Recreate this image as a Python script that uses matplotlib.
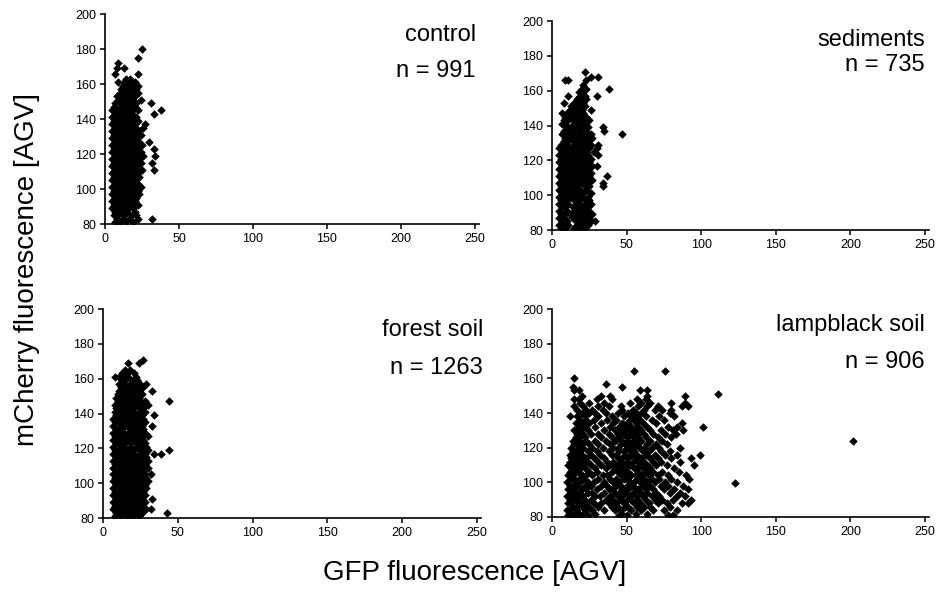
import numpy as np
import matplotlib
matplotlib.use("Agg")
import matplotlib.pyplot as plt

plt.rcParams['font.family'] = ['Liberation Sans', 'DejaVu Sans']

# points, grouped by mCherry value: (y, [GFP values])
control_rows = [
    (81, [7, 10, 14, 19]), (83, [8, 12, 16, 22, 32]), (85, [6, 9, 13, 18, 21]),
    (87, [7, 11, 15, 20]), (89, [5, 8, 12, 16, 19]), (91, [6, 10, 14, 18, 22]),
    (93, [5, 8, 12, 16, 20]), (95, [7, 10, 14, 18, 21]), (97, [5, 9, 12, 16, 20, 23]),
    (99, [6, 8, 11, 15, 18, 22]), (101, [5, 9, 13, 17, 20, 24]), (103, [7, 10, 14, 16, 19, 22]),
    (105, [5, 8, 12, 15, 18, 21]), (107, [6, 10, 13, 17, 20, 23]), (109, [5, 8, 11, 15, 19, 22]),
    (111, [7, 10, 13, 16, 20, 25, 33]), (113, [5, 9, 12, 15, 18, 22]),
    (115, [6, 8, 11, 14, 17, 21, 24, 32]), (117, [5, 9, 12, 16, 19, 23]),
    (119, [7, 10, 13, 15, 18, 22, 26, 34]), (121, [5, 8, 11, 14, 17, 20, 24]),
    (123, [6, 9, 12, 16, 19, 22, 33]), (125, [5, 8, 11, 14, 18, 21, 25]),
    (127, [7, 10, 13, 16, 19, 23, 30]), (129, [5, 9, 12, 15, 18, 21]),
    (131, [6, 8, 11, 14, 17, 20, 24]), (133, [5, 9, 12, 16, 19, 22]),
    (135, [7, 10, 13, 15, 18, 21, 26]), (137, [5, 8, 11, 14, 17, 20, 27]),
    (139, [6, 9, 12, 16, 19, 22]), (141, [5, 8, 11, 14, 18, 21]),
    (143, [7, 10, 13, 15, 18, 33]), (145, [5, 9, 12, 16, 19, 22, 38]),
    (147, [6, 10, 13, 17, 20]), (149, [7, 11, 14, 18, 21, 31]),
    (151, [9, 12, 15, 18, 24]), (153, [8, 11, 14, 17, 20]), (155, [10, 13, 16, 19, 22]),
    (157, [11, 14, 17, 21]), (159, [12, 15, 18, 22]), (161, [9, 13, 16, 20]),
    (163, [14, 17]), (166, [7, 22]), (169, [8, 13]), (172, [9]), (175, [22]), (180, [25]),
]

sediments_rows = [
    (81, [6, 9, 15, 18, 22]), (83, [5, 8, 11, 17, 20, 24]), (85, [7, 10, 16, 19, 23, 26, 29]),
    (87, [5, 9, 14, 18, 21, 25]), (89, [6, 8, 12, 16, 20, 23, 27]), (91, [5, 10, 15, 18, 22, 25]),
    (93, [7, 9, 14, 17, 21, 24]), (95, [5, 8, 11, 16, 19, 23, 26]), (97, [6, 10, 15, 18, 22, 25]),
    (99, [5, 9, 13, 17, 20, 24]), (101, [7, 11, 14, 18, 21, 26]), (103, [5, 8, 12, 16, 19, 23]),
    (105, [6, 10, 15, 17, 22, 25, 34]), (107, [5, 9, 13, 18, 20, 24, 34]),
    (109, [7, 11, 14, 16, 19, 23, 27]), (111, [5, 8, 12, 17, 21, 25, 37]),
    (113, [6, 10, 15, 18, 22, 26]), (115, [5, 9, 13, 16, 20, 24]),
    (117, [7, 11, 14, 19, 23, 27, 30]), (119, [5, 8, 12, 17, 21, 25]),
    (121, [6, 10, 15, 18, 22, 26]), (123, [5, 9, 13, 16, 20, 24, 31]),
    (125, [7, 11, 14, 19, 23, 28]), (127, [5, 8, 12, 17, 21, 25, 30]),
    (129, [6, 10, 15, 18, 22, 26, 31]), (131, [8, 11, 14, 16, 20, 24]),
    (133, [9, 13, 17, 21, 25, 27]), (135, [7, 10, 15, 18, 22, 26, 47]),
    (137, [8, 12, 14, 19, 23, 35]), (139, [10, 13, 17, 21, 24, 34]),
    (141, [7, 9, 15, 18, 22]), (143, [8, 11, 14, 17, 20, 25]), (145, [9, 13, 16, 19, 23]),
    (147, [7, 10, 14, 18, 21]), (149, [12, 15, 17, 20, 26]), (151, [13, 16, 19, 22]),
    (153, [8, 15, 18, 21]), (155, [17, 20, 23]), (157, [11, 19, 22, 30]), (159, [18, 21]),
    (161, [20, 23, 38]), (163, [21]), (166, [9, 11, 23]), (168, [26, 31]), (171, [22]),
]

forest_rows = [
    (81, [8, 12, 16, 20, 24]), (83, [9, 11, 14, 18, 22, 26, 43]),
    (85, [7, 10, 13, 17, 21, 25, 29, 32]), (87, [8, 12, 15, 19, 23, 27]),
    (89, [7, 10, 14, 17, 21, 25, 28]), (91, [9, 12, 16, 20, 23, 26, 33]),
    (93, [7, 11, 14, 18, 22, 25, 28]), (95, [8, 10, 13, 17, 21, 24, 27]),
    (97, [7, 12, 15, 19, 23, 26, 29]), (99, [9, 11, 14, 18, 22, 25, 28]),
    (101, [7, 10, 13, 16, 20, 24, 27, 30]), (103, [8, 12, 15, 19, 23, 26, 29]),
    (105, [7, 10, 14, 17, 21, 25, 28, 32]), (107, [9, 11, 13, 18, 22, 24, 27]),
    (109, [7, 12, 15, 19, 23, 26, 30]), (111, [8, 10, 14, 17, 21, 25, 28]),
    (113, [7, 11, 13, 16, 20, 24, 27, 30]), (115, [9, 12, 15, 19, 22, 26, 29]),
    (117, [7, 10, 14, 18, 21, 25, 28, 34, 39]), (119, [8, 11, 13, 17, 20, 24, 27, 30, 44]),
    (121, [7, 12, 15, 19, 23, 26, 29]), (123, [9, 10, 14, 18, 22, 25, 28]),
    (125, [7, 11, 13, 16, 20, 24, 27]), (127, [8, 12, 15, 19, 23, 26, 30]),
    (129, [7, 10, 14, 17, 21, 25, 28]), (131, [9, 11, 13, 18, 22, 24, 27]),
    (133, [7, 12, 15, 19, 23, 26, 33]), (135, [8, 10, 14, 17, 21, 25, 28]),
    (137, [7, 11, 13, 16, 20, 24, 27]), (139, [9, 12, 15, 19, 22, 26, 34]),
    (141, [8, 10, 14, 18, 21, 25, 28]), (143, [9, 11, 13, 17, 20, 24, 27]),
    (145, [8, 12, 15, 19, 23, 26, 30]), (147, [10, 14, 17, 21, 25, 28, 44]),
    (149, [9, 11, 13, 16, 20, 24]), (151, [10, 12, 15, 19, 22, 26]),
    (153, [11, 14, 17, 21, 24, 33]), (155, [12, 16, 19, 23, 27]),
    (157, [11, 14, 18, 21, 25, 29]), (159, [13, 15, 20, 23]), (161, [8, 11, 14, 17, 22]),
    (163, [13, 16, 21]), (165, [15, 18]), (169, [17, 24]), (171, [27]),
]

lampblack_rows = [
    (81, [11, 15, 20, 24, 45, 50, 78, 81]), (82, [13, 18, 29, 47, 56, 64]),
    (84, [10, 12, 17, 22, 27, 35, 42, 46, 53, 60, 68, 75, 84]),
    (86, [14, 16, 21, 25, 31, 40, 44, 49, 51, 57, 62, 66, 79]),
    (88, [11, 13, 19, 23, 28, 33, 38, 43, 48, 55, 59, 65, 71, 77, 87, 91]),
    (90, [12, 15, 17, 22, 26, 36, 41, 46, 50, 53, 58, 63, 69, 74, 81, 93]),
    (92, [10, 14, 19, 21, 29, 32, 39, 44, 47, 52, 56, 61, 67, 72, 84, 89]),
    (94, [13, 16, 18, 24, 27, 35, 42, 45, 49, 54, 60, 64, 70, 79, 86]),
    (96, [11, 15, 20, 23, 30, 38, 40, 47, 51, 56, 58, 63, 68, 75, 82, 91]),
    (98, [12, 14, 17, 22, 26, 33, 37, 43, 46, 50, 54, 61, 66, 73, 78, 88]),
    (99.5, [123]),
    (100, [10, 16, 19, 24, 28, 35, 41, 45, 52, 55, 59, 64, 69, 76, 84]),
    (102, [13, 15, 18, 21, 31, 39, 43, 48, 50, 57, 62, 67, 72, 80, 92]),
    (104, [11, 14, 20, 23, 27, 34, 37, 46, 49, 53, 56, 60, 65, 71, 78, 90]),
    (106, [12, 16, 18, 25, 30, 40, 44, 47, 51, 58, 63, 68, 74, 85]),
    (108, [13, 15, 19, 22, 29, 36, 42, 45, 49, 55, 57, 61, 66, 82]),
    (110, [11, 14, 17, 21, 26, 33, 39, 43, 48, 52, 59, 64, 70, 77, 95]),
    (112, [12, 16, 20, 24, 31, 37, 41, 46, 50, 54, 58, 62, 68, 73, 86]),
    (114, [13, 15, 18, 23, 28, 35, 44, 47, 51, 56, 60, 66, 71, 80, 93]),
    (116, [12, 17, 20, 26, 32, 40, 43, 49, 53, 57, 63, 69, 76, 84, 99]),
    (118, [14, 16, 19, 24, 30, 38, 45, 48, 52, 55, 61, 65, 73, 79]),
    (120, [13, 18, 21, 27, 34, 41, 44, 50, 54, 59, 62, 67, 72, 86]),
    (122, [15, 17, 20, 25, 31, 39, 46, 49, 53, 57, 64, 70, 77]),
    (124, [14, 19, 23, 29, 36, 42, 47, 51, 55, 60, 66, 74, 202]),
    (126, [16, 18, 22, 33, 40, 45, 50, 54, 58, 63, 71, 80]),
    (128, [17, 21, 26, 31, 38, 44, 48, 52, 57, 62, 68, 76, 83]),
    (130, [15, 19, 24, 35, 42, 47, 51, 55, 60, 66, 73, 81, 88]),
    (132, [18, 22, 29, 39, 45, 49, 53, 58, 64, 78, 84, 101]),
    (134, [16, 21, 25, 33, 41, 47, 50, 56, 61, 70, 87]),
    (136, [19, 23, 28, 37, 43, 52, 55, 59, 67, 75]),
    (138, [12, 17, 22, 31, 40, 48, 53, 57, 63, 72, 82]),
    (140, [20, 25, 29, 36, 44, 51, 56, 60, 79]),
    (142, [17, 23, 27, 34, 47, 54, 62, 69, 74, 80]),
    (144, [15, 21, 31, 38, 46, 58, 64, 71, 87, 91]),
    (146, [19, 25, 35, 52, 60, 66, 80, 89]),
    (148, [15, 18, 30, 40, 57, 63]), (150, [20, 33, 39, 64, 89]), (151, [111]),
    (153, [15, 18, 59, 64]), (155, [14, 47]), (157, [36]), (160, [15]), (164, [55, 76]),
]

titles = ['control', 'sediments', 'forest soil', 'lampblack soil']
counts = [991, 735, 1263, 906]
all_rows = [control_rows, sediments_rows, forest_rows, lampblack_rows]

x_ticks = [0, 50, 100, 150, 200, 250]
y_ticks = [80, 100, 120, 140, 160, 180, 200]


def expand(rows):
    xs, ys = [], []
    for y, row in rows:
        for x in row:
            xs.append(x)
            ys.append(y)
    return np.array(xs), np.array(ys)


fig = plt.figure(figsize=(9.36, 5.99), dpi=100)

# axes boxes (left, bottom, width, height) and label placement in axes coords
boxes = [
    [0.1122, 0.6260, 0.4000, 0.3506],
    [0.5897, 0.6160, 0.4033, 0.3489],
    [0.1100, 0.1352, 0.4044, 0.3489],
    [0.5897, 0.1369, 0.4033, 0.3472],
]
label_pos = [(0.99, 0.90, 0.729), (0.988, 0.909, 0.789),
             (1.004, 0.90, 0.718), (0.988, 0.923, 0.745)]

for i in range(4):
    ax = fig.add_axes(boxes[i])
    xs, ys = expand(all_rows[i])
    ax.scatter(xs, ys, marker='D', s=19, color='black', linewidths=0)
    ax.set_xlim(0, 253)
    ax.set_ylim(80, 200)
    ax.set_xticks(x_ticks)
    ax.set_yticks(y_ticks)
    ax.spines['top'].set_visible(False)
    ax.spines['right'].set_visible(False)
    ax.spines['left'].set_linewidth(1.2)
    ax.spines['bottom'].set_linewidth(1.2)
    ax.tick_params(direction='out', length=3.5, width=1.1, labelsize=9, pad=3)
    lx, ly1, ly2 = label_pos[i]
    ax.text(lx, ly1, titles[i], transform=ax.transAxes, ha='right', va='center', fontsize=17)
    ax.text(lx, ly2, 'n = %d' % counts[i], transform=ax.transAxes, ha='right', va='center', fontsize=17)

fig.text(27 / 936, 1 - 270 / 599, 'mCherry fluorescence [AGV]', rotation=90,
         ha='center', va='center', fontsize=20)
fig.text(475 / 936, 1 - 573 / 599, 'GFP fluorescence [AGV]', ha='center', va='center', fontsize=20)

fig.savefig('out.png', dpi=100)
